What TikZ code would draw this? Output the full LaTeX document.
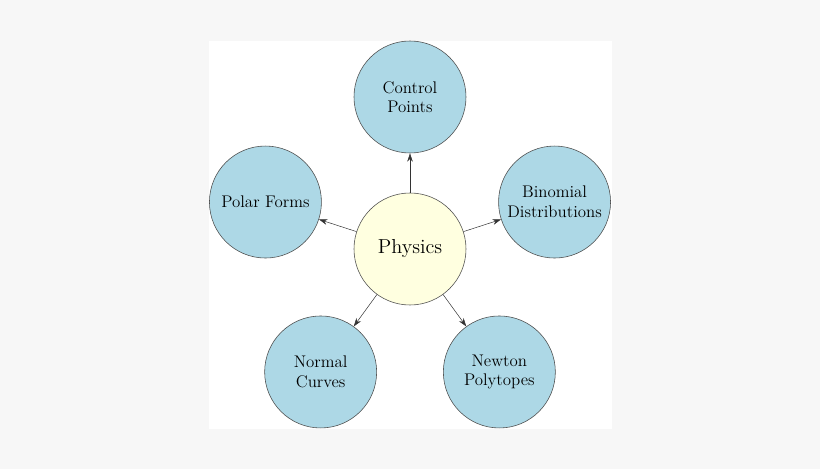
\documentclass[tikz,border=0pt]{standalone}
\usepackage{xcolor}
\usepackage{tikz}
\usetikzlibrary{positioning,arrows.meta}
\definecolor{bgray}{HTML}{F7F7F7}
\definecolor{topicblue}{HTML}{ADD8E6}
\definecolor{hubyellow}{HTML}{FFFFE0}
\begin{document}
\begin{tikzpicture}[
    hub/.style   = {circle, draw=black!70, line width=0.4pt, fill=hubyellow,
                    minimum size=2.8cm, align=center, font=\Large},
    topic/.style = {circle, draw=black!70, line width=0.4pt, fill=topicblue,
                    minimum size=2.8cm, align=center, font=\large},
    arrow/.style = {-{Stealth[length=6pt,width=4pt]}, line width=0.35pt, draw=black!80}
]
% canvas: 820x469 px, 1px = 0.025cm, hub at (410,249)
\fill[bgray] (-10.25,6.225) rectangle (10.25,-5.5);
\useasboundingbox (-10.25,6.225) rectangle (10.25,-5.5);
\fill[white] (-5.025,5.2) rectangle (5.05,-4.5);

\node[hub] (physics) at (0,0) {Physics};

% Topics around the hub
\node[topic] (control)  at (90:3.8)   {Control\\Points};
\node[topic] (binomial) at (18:3.8)   {Binomial\\Distributions};
\node[topic] (newton)   at (-54:3.8)  {Newton\\Polytopes};
\node[topic] (normal)   at (-126:3.8) {Normal\\Curves};
\node[topic] (polar)    at (162:3.8)  {Polar Forms};

% Arrows
\foreach \t in {control,binomial,newton,normal,polar}
    \draw[arrow] (physics) -- (\t);

\end{tikzpicture}
\end{document}
